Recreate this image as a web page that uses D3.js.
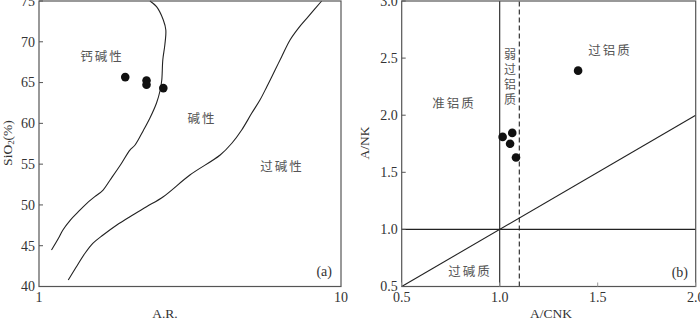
<!DOCTYPE html>
<html lang="zh">
<head>
<meta charset="UTF-8" />
<title>A.R.-SiO2 and A/CNK-A/NK</title>
<script src="https://d3js.org/d3.v7.min.js"></script>
<style>
  body { margin: 0; background: #fff; }
  .tick-label { font-family: "Liberation Serif", "DejaVu Serif", serif; font-size: 14px; fill: #333; }
  .axis-title { font-family: "Liberation Serif", "DejaVu Serif", serif; font-size: 13.5px; fill: #333; }
  .zone { font-family: "Noto Sans CJK SC", sans-serif; font-size: 12.5px; fill: #555; letter-spacing: 2px; }
  .frame { fill: none; stroke: #555; stroke-width: 1.2; }
  .bound { fill: none; stroke: #222; stroke-width: 1.1; }
</style>
</head>
<body>
<svg width="700" height="320"></svg>
<script>
// ---- panel (a): A.R. vs SiO2 ----
const arTicks = [1, 10];
const siTicks = [40, 45, 50, 55, 60, 65, 70, 75];
// calc-alkaline / alkaline boundary
const curveCalc = [
  [2.33, 75], [2.45, 74.3], [2.58, 72.67], [2.63, 71.44], [2.61, 69.61],
  [2.57, 67.77], [2.55, 65.31], [2.52, 64.09], [2.45, 62.5], [2.33, 60.66],
  [2.22, 59.19], [2.08, 57.35], [2.0, 56.73], [1.86, 54.89], [1.72, 53.06],
  [1.63, 51.83], [1.53, 51.01], [1.44, 50.2], [1.35, 49.17], [1.27, 48.15],
  [1.2, 46.93], [1.16, 45.91], [1.1, 44.47]
];
// alkaline / peralkaline boundary
const curveAlk = [
  [1.25, 40.8], [1.33, 42.43], [1.42, 44.07], [1.51, 45.31], [1.63, 46.31],
  [1.81, 47.54], [2.0, 48.56], [2.27, 49.78], [2.58, 51.01], [3.16, 53.67],
  [3.98, 56.12], [4.35, 57.56], [4.69, 59.19], [5.06, 61.23], [5.39, 62.86],
  [5.68, 64.49], [6.05, 66.54], [6.36, 68.17], [6.78, 70.22], [7.22, 71.65],
  [7.79, 73.08], [8.63, 75]
];
const samplesAR = [1.93, 2.27, 2.27, 2.58];
const samplesSi = [65.67, 65.25, 64.73, 64.32];

// ---- panel (b): A/CNK vs A/NK ----
const cnkTicks = [0.5, 1.0, 1.5, 2.0];
const nkTicks = [0.5, 1.0, 1.5, 2.0, 2.5, 3.0];
const samplesCNK = [1.40, 1.015, 1.064, 1.053, 1.083];
const samplesNK = [2.39, 1.81, 1.845, 1.75, 1.63];

const svg = d3.select("svg");
const plotTop = 1, plotBottom = 286.5;

// ===== (a) =====
const xa = d3.scaleLog().domain([1, 10]).range([39, 341]);
const ya = d3.scaleLinear().domain([40, 75]).range([plotBottom, plotTop]);
const ga = svg.append("g");

const lineA = d3.line()
  .x(function (d) { return xa(d[0]); })
  .y(function (d) { return ya(d[1]); })
  .curve(d3.curveCatmullRom);

ga.append("path").datum(curveCalc).attr("class", "bound").attr("d", lineA);
ga.append("path").datum(curveAlk).attr("class", "bound").attr("d", lineA);

ga.append("rect").attr("class", "frame")
  .attr("x", xa(1)).attr("y", plotTop)
  .attr("width", xa(10) - xa(1)).attr("height", plotBottom - plotTop);

ga.selectAll(".ytick").data(siTicks).enter().append("line")
  .attr("x1", xa(1)).attr("x2", xa(1) + 4)
  .attr("y1", function (d) { return ya(d); }).attr("y2", function (d) { return ya(d); })
  .attr("stroke", "#555");
ga.selectAll(".ylab").data(siTicks).enter().append("text")
  .attr("class", "tick-label")
  .attr("x", xa(1) - 4).attr("y", function (d) { return ya(d); })
  .attr("text-anchor", "end").attr("dy", "0.35em")
  .text(function (d) { return d; });
ga.selectAll(".xlab").data(arTicks).enter().append("text")
  .attr("class", "tick-label")
  .attr("x", function (d) { return xa(d); }).attr("y", 302)
  .attr("text-anchor", "middle")
  .text(function (d) { return d; });

ga.selectAll(".pt").data(samplesAR).enter().append("circle")
  .attr("cx", function (d) { return xa(d); })
  .attr("cy", function (d, i) { return ya(samplesSi[i]); })
  .attr("r", 4.3).attr("fill", "#111");

ga.append("text").attr("class", "axis-title")
  .attr("x", 165).attr("y", 318).attr("text-anchor", "middle").text("A.R.");
ga.append("text").attr("class", "axis-title")
  .attr("transform", "translate(12,143) rotate(-90)").attr("text-anchor", "middle")
  .html("SiO<tspan font-size='9' dy='2'>2</tspan><tspan dy='-2'>(%)</tspan>");

ga.append("text").attr("class", "zone").attr("x", 102).attr("y", 61).attr("text-anchor", "middle").text("钙碱性");
ga.append("text").attr("class", "zone").attr("x", 202).attr("y", 123).attr("text-anchor", "middle").text("碱性");
ga.append("text").attr("class", "zone").attr("x", 282).attr("y", 171).attr("text-anchor", "middle").text("过碱性");
ga.append("text").attr("class", "tick-label").attr("x", 332).attr("y", 276).attr("text-anchor", "end").text("(a)");

// ===== (b) =====
const xb = d3.scaleLinear().domain([0.5, 2.0]).range([401.7, 695.7]);
const yb = d3.scaleLinear().domain([0.5, 3.0]).range([plotBottom, plotTop]);
const gb = svg.append("g");

gb.append("line").attr("class", "bound")
  .attr("x1", xb(0.5)).attr("y1", yb(0.5)).attr("x2", xb(2.0)).attr("y2", yb(2.0));
gb.append("line").attr("class", "bound")
  .attr("x1", xb(0.5)).attr("y1", yb(1.0)).attr("x2", xb(2.0)).attr("y2", yb(1.0));
gb.append("line").attr("class", "bound")
  .attr("x1", xb(1.0)).attr("y1", yb(0.5)).attr("x2", xb(1.0)).attr("y2", yb(3.0));
gb.append("line").attr("class", "bound").attr("stroke-dasharray", "5,3")
  .attr("x1", xb(1.1)).attr("y1", yb(0.5)).attr("x2", xb(1.1)).attr("y2", yb(3.0));

gb.append("rect").attr("class", "frame")
  .attr("x", xb(0.5)).attr("y", plotTop)
  .attr("width", xb(2.0) - xb(0.5)).attr("height", plotBottom - plotTop);

gb.selectAll(".ytick").data(nkTicks).enter().append("line")
  .attr("x1", xb(0.5)).attr("x2", xb(0.5) + 4)
  .attr("y1", function (d) { return yb(d); }).attr("y2", function (d) { return yb(d); })
  .attr("stroke", "#555");
gb.selectAll(".xtick").data(cnkTicks).enter().append("line")
  .attr("x1", function (d) { return xb(d); }).attr("x2", function (d) { return xb(d); })
  .attr("y1", plotBottom).attr("y2", plotBottom - 4)
  .attr("stroke", "#999");
gb.selectAll(".ylab").data(nkTicks).enter().append("text")
  .attr("class", "tick-label")
  .attr("x", xb(0.5) - 4).attr("y", function (d) { return yb(d); })
  .attr("text-anchor", "end").attr("dy", "0.35em")
  .text(function (d) { return d.toFixed(1); });
gb.selectAll(".xlab").data(cnkTicks).enter().append("text")
  .attr("class", "tick-label")
  .attr("x", function (d) { return xb(d); }).attr("y", 302)
  .attr("text-anchor", "middle")
  .text(function (d) { return d.toFixed(1); });

gb.selectAll(".pt").data(samplesCNK).enter().append("circle")
  .attr("cx", function (d) { return xb(d); })
  .attr("cy", function (d, i) { return yb(samplesNK[i]); })
  .attr("r", 4.3).attr("fill", "#111");

gb.append("text").attr("class", "axis-title")
  .attr("x", 551).attr("y", 318).attr("text-anchor", "middle").text("A/CNK");
gb.append("text").attr("class", "axis-title")
  .attr("transform", "translate(369,143) rotate(-90)").attr("text-anchor", "middle").text("A/NK");

gb.append("text").attr("class", "zone").attr("x", 454).attr("y", 108).attr("text-anchor", "middle").text("准铝质");
gb.append("text").attr("class", "zone").attr("x", 610).attr("y", 55).attr("text-anchor", "middle").text("过铝质");
gb.append("text").attr("class", "zone").attr("x", 470).attr("y", 276).attr("text-anchor", "middle").text("过碱质");
["弱", "过", "铝", "质"].forEach(function (c, i) {
  gb.append("text").attr("class", "zone").style("letter-spacing", "0").style("font-size", "12px")
    .attr("x", 510).attr("y", 59 + i * 15).attr("text-anchor", "middle").text(c);
});
gb.append("text").attr("class", "tick-label").attr("x", 688).attr("y", 277).attr("text-anchor", "end").text("(b)");
</script>
</body>
</html>
